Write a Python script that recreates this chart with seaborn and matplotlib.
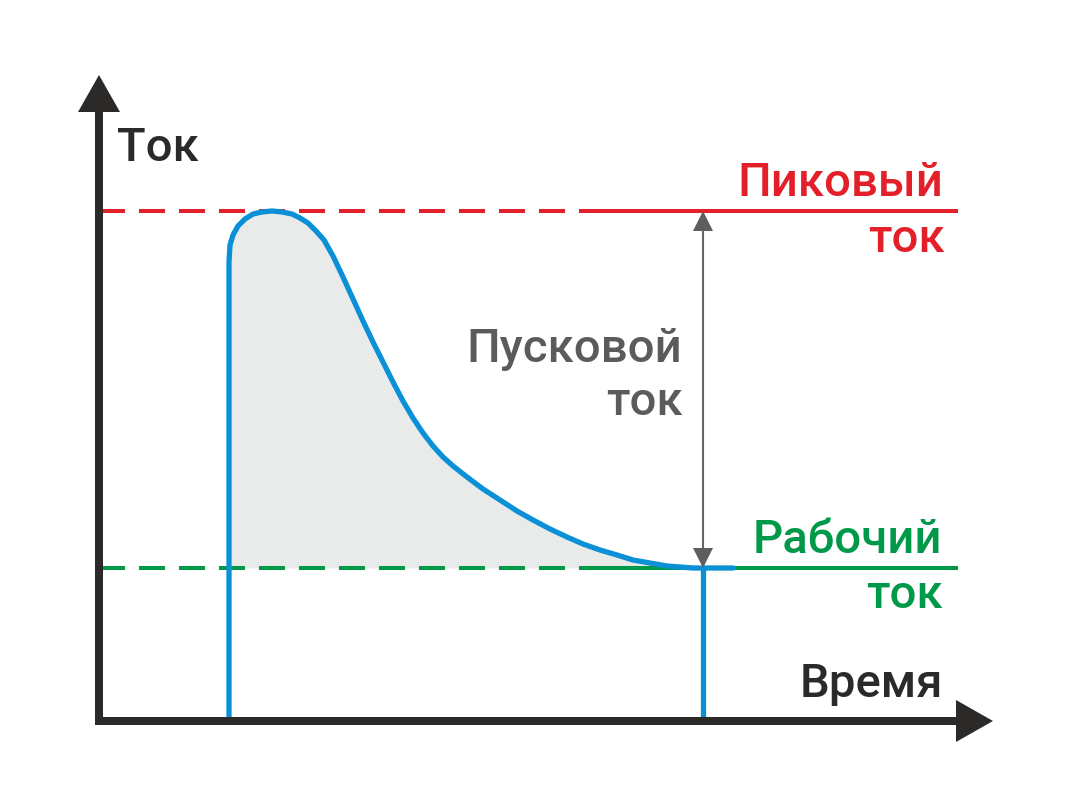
import matplotlib
matplotlib.use("Agg")
import matplotlib.pyplot as plt
import seaborn as sns
import numpy as np
import pandas as pd

sns.set_theme(style="white")
plt.rcParams['font.family'] = ['Roboto', 'DejaVu Sans']
plt.rcParams['lines.scale_dashes'] = False

# ---- data (time / current, arbitrary units) ----
time_pts = [130, 130, 131, 134, 139, 146, 154, 163, 173, 183, 193, 201, 209, 217,
            225, 234, 244, 254, 264, 274, 284, 294, 304, 314, 324, 334, 344, 354,
            368, 384, 401, 418, 434, 451, 468, 484, 501, 518, 534, 551, 568, 581,
            594, 604, 634]
current_pts = [0, 459, 476, 486, 495, 502, 507, 509, 510, 509, 507, 503, 498, 490,
               481, 465, 444, 422, 400, 379, 359, 339, 320, 303, 288, 275, 264, 255,
               244, 232, 221, 210, 201, 192, 184, 177, 171, 166, 161, 158, 155, 154,
               153, 153, 153]
peak_current = 510
working_current = 153
start_time = 130
steady_time = 604

labels = {
    "y": "Ток",
    "x": "Время",
    "peak": ["Пиковый", "ток"],
    "start": ["Пусковой", "ток"],
    "work": ["Рабочий", "ток"],
}

BLUE = "#0A90D6"
RED = "#E3202A"
GREEN = "#00994A"
DARK = "#2B2A28"
GRAYT = "#5B5B5B"
FILL = "#E9EBEB"

fig = plt.figure(figsize=(10.67, 7.98), dpi=100)
ax = fig.add_axes([0, 0, 1, 1])
ax.set_xlim(-99, 968)
ax.set_ylim(-77, 721)
ax.axis("off")

df = pd.DataFrame({"t": time_pts, "i": current_pts})

# fill between curve and working current
t_arr = np.array(time_pts, dtype=float)
i_arr = np.array(current_pts, dtype=float)
mask = (t_arr <= steady_time) & (i_arr >= working_current)
ax.fill_between(t_arr[mask], i_arr[mask], working_current, color=FILL, lw=0, zorder=1)

lw_dash = 2.9
dash_end = 579
xmax_line = 859
for yv, col in [(peak_current, RED), (working_current, GREEN)]:
    ax.plot([0, dash_end - 99], [yv, yv], color=col, lw=lw_dash,
            dashes=(18.7, 10.1), dash_capstyle="butt", zorder=2)
    ax.plot([dash_end - 99, xmax_line], [yv, yv], color=col, lw=lw_dash,
            solid_capstyle="butt", zorder=2)

# current curve
sns.lineplot(data=df, x="t", y="i", sort=False, estimator=None, color=BLUE,
             lw=3.8, ax=ax, zorder=3)
ax.plot([steady_time, steady_time], [working_current, 2], color=BLUE, lw=3.8,
        solid_capstyle="butt", zorder=3)
ax.set_xlabel("")
ax.set_ylabel("")

# axes with arrows
ax.plot([0, 0], [-4, 609], color=DARK, lw=5.76, solid_capstyle="butt", zorder=4)
ax.plot([-4, 857], [0, 0], color=DARK, lw=5.76, solid_capstyle="butt", zorder=4)
ax.fill([0, -21, 21], [646, 609, 609], color=DARK, lw=0, zorder=4)
ax.fill([894, 857, 857], [0, 21, -21], color=DARK, lw=0, zorder=4)

# starting-current double arrow
ax.plot([steady_time, steady_time], [working_current + 19, peak_current - 19],
        color="#666666", lw=1.5, zorder=5)
ax.fill([steady_time, steady_time - 10, steady_time + 10],
        [working_current, working_current + 20, working_current + 20],
        color="#5E5E5E", lw=0, zorder=5)
ax.fill([steady_time, steady_time - 10, steady_time + 10],
        [peak_current, peak_current - 20, peak_current - 20],
        color="#5E5E5E", lw=0, zorder=5)

fs = 34
fw = "medium"
kw = dict(fontsize=fs, fontweight=fw, va="baseline")
ax.text(18, 560, labels["y"], color=DARK, ha="left", **kw)
ax.text(844, 24, labels["x"], color=DARK, ha="right", **kw)
ax.text(844, 525, labels["peak"][0], color=RED, ha="right", **kw)
ax.text(846, 469, labels["peak"][1], color=RED, ha="right", **kw)
ax.text(583, 359, labels["start"][0], color=GRAYT, ha="right", **kw)
ax.text(584, 306, labels["start"][1], color=GRAYT, ha="right", **kw)
ax.text(843, 168, labels["work"][0], color=GREEN, ha="right", **kw)
ax.text(844, 113, labels["work"][1], color=GREEN, ha="right", **kw)

fig.savefig("out.png", dpi=100, facecolor="white")
